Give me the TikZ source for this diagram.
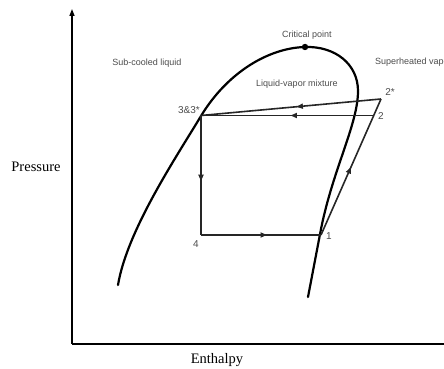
\documentclass[tikz,border=0pt]{standalone}
\usepackage{fontspec}
\setmainfont{Liberation Serif}
\newfontfamily\labelfont{Liberation Sans}
\usetikzlibrary{arrows.meta,decorations.markings}
\tikzset{
  axisline/.style={line width=1.5pt, draw=black, line cap=butt},
  domeline/.style={line width=2.2pt, draw=black, line cap=round, line join=round},
  cycleline/.style={line width=1.6pt, draw=black!85, line cap=butt, line join=miter},
  flowmark/.style={postaction={decorate}, decoration={markings,
    mark=at position #1 with {\arrow{Triangle[length=6.5pt, width=5pt]}}}},
  regionlabel/.style={font=\labelfont\fontsize{9}{11}\selectfont, text=black!70},
  pointlabel/.style={font=\labelfont\fontsize{10}{12}\selectfont, text=black!70, inner sep=0pt},
  axislabel/.style={font=\fontsize{14.5}{16}\selectfont},
}

\begin{document}
\begin{tikzpicture}[x=1pt, y=1pt]
\useasboundingbox (0,0) rectangle (444,369);
% axes
\coordinate (origin) at (72,25);
\coordinate (ytop) at (72,360);
\coordinate (xend) at (448,25);
\draw[axisline, -{Triangle[length=7pt, width=5pt]}] (origin) -- (ytop);
\draw[axisline] (origin) -- (xend);
\node[axislabel] (pressure) at (36,202) {Pressure};
\node[axislabel] (enthalpy) at (217,9) {Enthalpy};
% saturation dome
\coordinate (critical) at (305,322);
\draw[domeline] (118,84) .. controls (127,138) and (175,210) .. (201,253)
  .. controls (227,296) and (268,321) .. (critical)
  .. controls (335,323) and (358,305) .. (358,278)
  .. controls (358,245) and (333,200) .. (321,140)
  -- (308,72);
\fill (critical) circle (3.2);
% cycle points
\coordinate (p3) at (201,253.5);
\coordinate (p4) at (201,134);
\coordinate (p1) at (321,134);
\coordinate (p2) at (373,253.5);
\coordinate (p2s) at (381,270);
% cycle
\draw[cycleline, flowmark=0.55] (p3) -- (p4);
\draw[cycleline, flowmark=0.55] (p4) -- (p1);
\draw[cycleline, flowmark=0.5] (p1) -- (p2s);
\draw[cycleline, flowmark=0.47] (p2s) -- (p3);
\draw[cycleline, flowmark=0.48] (p2) -- (p3);
% labels
\node[regionlabel] (critlabel) at (307,334) {Critical point};
\node[regionlabel] (subcooled) at (147,306) {Sub-cooled liquid};
\node[regionlabel, anchor=west, inner sep=0pt] (superheated) at (375,307) {Superheated vapor};
\node[regionlabel] (mixture) at (297,285) {Liquid-vapor mixture};
\node[pointlabel] (l3) at (189,259) {3\&3*};
\node[pointlabel] (l2s) at (390,277) {2*};
\node[pointlabel] (l2) at (381,253) {2};
\node[pointlabel] (l1) at (329,133) {1};
\node[pointlabel] (l4) at (196,125) {4};
\end{tikzpicture}
\end{document}
